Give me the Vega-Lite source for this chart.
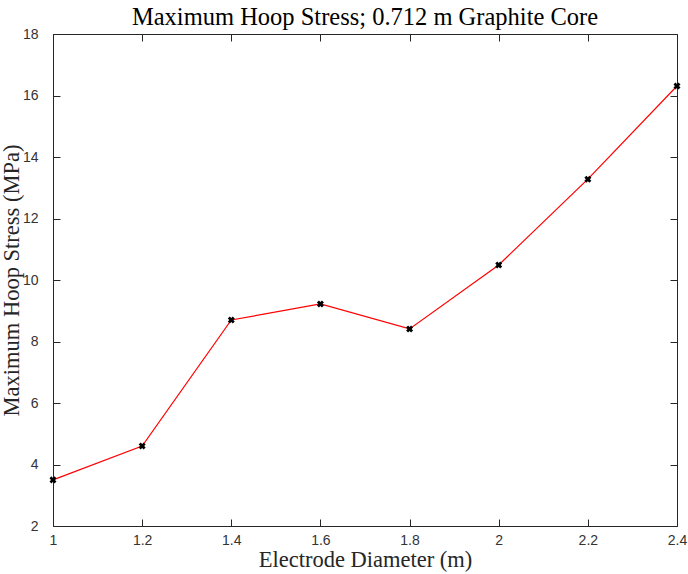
{
  "$schema": "https://vega.github.io/schema/vega-lite/v6.json",
  "width": 624,
  "height": 492,
  "autosize": "none",
  "padding": {"left": 53, "top": 34, "right": 11, "bottom": 48},
  "background": "white",
  "title": {"text": "Maximum Hoop Stress; 0.712 m Graphite Core", "font": "Liberation Serif", "fontSize": 24.5, "fontWeight": "normal", "color": "#000000", "offset": -3},
  "config": {
    "view": {"stroke": null},
    "axis": {"grid": false, "domainColor": "#262626", "domainWidth": 1, "tickColor": "#262626", "tickWidth": 1, "tickSize": -7, "labelFont": "Liberation Sans", "labelFontSize": 14, "labelColor": "#333333", "titleFont": "Liberation Serif", "titleFontSize": 22.5, "titleFontWeight": "normal", "titleColor": "#262626"}
  },
  "data": {"values": [
    {"d": 1.0, "s": 3.50},
    {"d": 1.2, "s": 4.60},
    {"d": 1.4, "s": 8.70},
    {"d": 1.6, "s": 9.22},
    {"d": 1.8, "s": 8.41},
    {"d": 2.0, "s": 10.49},
    {"d": 2.2, "s": 13.28},
    {"d": 2.4, "s": 16.31}
  ]},
  "resolve": {"axis": {"x": "independent", "y": "independent"}},
  "layer": [
    {
      "mark": {"type": "line", "color": "#ff0000", "strokeWidth": 1.2},
      "encoding": {
        "x": {"field": "d", "type": "quantitative", "scale": {"domain": [1, 2.4], "nice": false, "zero": false}, "axis": {"title": "Electrode Diameter (m)", "values": [1, 1.2, 1.4, 1.6, 1.8, 2, 2.2, 2.4], "format": "~g", "labelPadding": 14, "titlePadding": 1, "labelFlush": false}},
        "y": {"field": "s", "type": "quantitative", "scale": {"domain": [2, 18], "nice": false, "zero": false}, "axis": {"title": "Maximum Hoop Stress (MPa)", "values": [2, 4, 6, 8, 10, 12, 14, 16, 18], "labelPadding": 22, "titlePadding": -1}}
      }
    },
    {
      "mark": {"type": "point", "shape": "cross", "angle": 45, "size": 50, "filled": true, "color": "#000000", "opacity": 1},
      "encoding": {
        "x": {"field": "d", "type": "quantitative", "scale": {"domain": [1, 2.4], "nice": false, "zero": false}, "axis": {"orient": "top", "title": null, "labels": false, "values": [1, 1.2, 1.4, 1.6, 1.8, 2, 2.2, 2.4]}},
        "y": {"field": "s", "type": "quantitative", "scale": {"domain": [2, 18], "nice": false, "zero": false}, "axis": {"orient": "right", "title": null, "labels": false, "values": [2, 4, 6, 8, 10, 12, 14, 16, 18]}}
      }
    }
  ]
}
